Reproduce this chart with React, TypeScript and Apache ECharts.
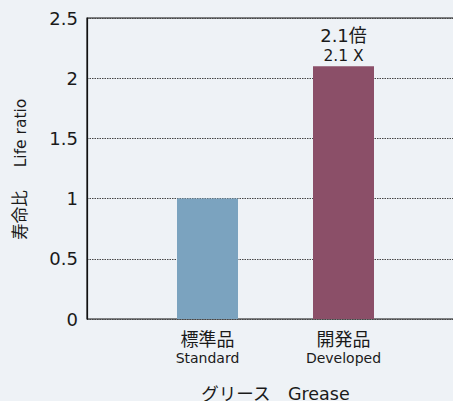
import React, { useEffect, useRef } from "react";
import * as echarts from "echarts";

const categoriesJa = ["標準品", "開発品"];
const categoriesEn = ["Standard", "Developed"];
const lifeRatio = [1.0, 2.1];
const barColors = ["#7ba3bf", "#8b4f68"];
const yTicks = { min: 0, max: 2.5, interval: 0.5 };
const annotationJa = ["", "2.1倍"];
const annotationEn = ["", "2.1 X"];
const yNameJa = "寿命比";
const yNameEn = "Life ratio";
const xName = "グリース　Grease";

const FONT = "'DejaVu Sans', 'Noto Sans CJK JP', sans-serif";
const TXT = "#1a1a1a";

export default function App() {
  const ref = useRef<HTMLDivElement>(null);
  useEffect(() => {
    if (!ref.current) return;
    const chart = echarts.init(ref.current, null, { renderer: "svg" });
    const top = 18;
    const bottom = 82;
    chart.setOption({
      animation: false,
      backgroundColor: "#eef2f6",
      textStyle: { fontFamily: FONT, color: TXT },
      grid: [
        {
          left: 87, right: -20, top, bottom,
          show: true, borderColor: "#111", borderWidth: 1.2,
          backgroundColor: "transparent",
          outerBoundsMode: "none", containLabel: false,
        },
        { left: 139.5, width: 272, top, bottom, outerBoundsMode: "none", containLabel: false },
      ],
      xAxis: [
        {
          gridIndex: 0, type: "value", min: 0, max: 1,
          axisLine: { show: false }, axisTick: { show: false },
          axisLabel: { show: false }, splitLine: { show: false },
        },
        {
          gridIndex: 1, type: "category",
          data: categoriesJa.map((c, i) => `{ja|${c}}\n{en|${categoriesEn[i]}}`),
          axisLine: { show: false }, axisTick: { show: false },
          axisLabel: {
            margin: 10, interval: 0,
            rich: {
              ja: { fontSize: 18, lineHeight: 21, fontFamily: FONT, color: TXT },
              en: { fontSize: 14, lineHeight: 16, fontFamily: FONT, color: TXT },
            },
          },
          name: xName,
          nameLocation: "middle",
          nameGap: 66,
          nameTextStyle: { fontSize: 17.5, fontFamily: FONT, color: TXT },
        },
      ],
      yAxis: [
        {
          gridIndex: 0, type: "value", ...yTicks,
          axisLine: { show: true, lineStyle: { color: "#111", width: 1.2 } },
          axisTick: { show: false },
          axisLabel: { fontSize: 18, margin: 9, color: TXT, fontFamily: FONT },
          splitLine: { show: true, lineStyle: { type: [1.5, 1], color: "#444", width: 1 } },
        },
        {
          gridIndex: 1, type: "value", ...yTicks, show: false,
          splitLine: { show: false },
        },
      ],
      graphic: [
        {
          type: "text", x: 21, y: 133, rotation: Math.PI / 2,
          style: {
            text: yNameEn, fontSize: 15.5, fontFamily: FONT, fill: TXT,
            align: "center", verticalAlign: "middle",
          },
        },
        {
          type: "text", x: 20, y: 215, rotation: Math.PI / 2,
          style: {
            text: yNameJa, fontSize: 16.5, fontFamily: FONT, fill: TXT,
            align: "center", verticalAlign: "middle",
          },
        },
      ],
      series: [
        {
          type: "bar", xAxisIndex: 1, yAxisIndex: 1,
          barWidth: 61,
          data: lifeRatio.map((v, i) => ({
            value: v,
            itemStyle: { color: barColors[i] },
            label: {
              show: annotationJa[i] !== "",
              position: "top",
              distance: 0,
              formatter: `{ja|${annotationJa[i]}}\n{en|${annotationEn[i]}}`,
              rich: {
                ja: { fontSize: 18, lineHeight: 22, fontFamily: FONT, color: TXT },
                en: { fontSize: 15.5, lineHeight: 20, fontFamily: FONT, color: TXT },
              },
            },
          })),
        },
      ],
    });
    return () => chart.dispose();
  }, []);
  return (
    <div
      ref={ref}
      style={{ position: "absolute", left: 0, top: 0, width: 453, height: 401 }}
    />
  );
}
